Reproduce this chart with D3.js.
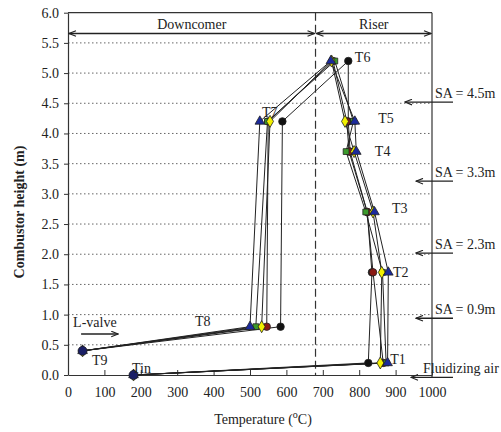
<!DOCTYPE html>
<html>
<head>
<meta charset="utf-8">
<script src="https://cdn.jsdelivr.net/npm/d3@7"></script>
<style>
  body { margin: 0; background: #fff; }
  svg text { font-family: "Liberation Serif", "DejaVu Serif", serif; fill: #222; }
</style>
</head>
<body>
<div id="chart"></div>
<script>
// measurement points along the loop: Tin, T1..T9
const heights = [0, 0.2, 1.7, 2.7, 3.7, 4.2, 5.2, 4.2, 0.8, 0.4];

// temperatures per run (°C)
const runBlack  = [180, 825, 835, 822, 775, 770, 770, 589, 584, 40];
const runRed    = [180, 866, 838, 822, 772, 766, 728, 550, 546, 40];
const runGreen  = [180, 874, 864, 818, 764, 784, 733, 548, 516, 40];
const runYellow = [180, 858, 862, 838, 786, 761, 724, 555, 532, 40];
const runBlue   = [180, 878, 880, 842, 792, 788, 722, 527, 500, 40];

// inlet / L-valve points drawn on top
const endTemps = [180, 40];
const endHeights = [0, 0.4];

const xTicks = [0, 100, 200, 300, 400, 500, 600, 700, 800, 900, 1000];
const yTicks = [0, 0.5, 1, 1.5, 2, 2.5, 3, 3.5, 4, 4.5, 5, 5.5, 6];
const gridLevels = [0.5, 1, 1.5, 2, 2.5, 3, 3.5, 4, 4.5, 5, 5.5];

const pointLabels = ["Tin", "T1", "T2", "T3", "T4", "T5", "T6", "T7", "T8", "T9"];
const labelX = [176, 885, 893, 890, 843, 852, 788, 533, 349, 66];
const labelY = [0.03, 0.18, 1.62, 2.68, 3.63, 4.17, 5.18, 4.27, 0.81, 0.17];

const saLabels = ["SA = 4.5m", "SA = 3.3m", "SA = 2.3m", "SA = 0.9m", "Fluidizing air"];
const saLevels = [4.52, 3.21, 2.02, 0.94, -0.04];

const boundaryTemp = 680;

const W = 501, H = 432;
const svg = d3.select("#chart").append("svg")
    .attr("width", W)
    .attr("height", H);

const x = d3.scaleLinear().domain([0, 1000]).range([68, 432]);
const y = d3.scaleLinear().domain([0, 6]).range([375, 12.7]);

// grid
svg.append("g")
    .selectAll("line")
    .data(gridLevels)
    .enter().append("line")
    .attr("x1", x(0)).attr("x2", x(1000))
    .attr("y1", d => y(d)).attr("y2", d => y(d))
    .attr("stroke", "#666")
    .attr("stroke-width", 1)
    .attr("stroke-dasharray", "1.5,2.5");

// frame
svg.append("line").attr("x1", x(0)).attr("x2", x(1000)).attr("y1", y(6)).attr("y2", y(6))
    .attr("stroke", "#333").attr("stroke-width", 1.2);
svg.append("line").attr("x1", x(1000)).attr("x2", x(1000)).attr("y1", y(6)).attr("y2", y(0) + 3)
    .attr("stroke", "#333").attr("stroke-width", 1.2);

// axes
const xAxis = svg.append("g")
    .attr("transform", `translate(0,${y(0)})`)
    .call(d3.axisBottom(x).tickValues(xTicks).tickFormat(d3.format("d")).tickSizeInner(-5).tickSizeOuter(0).tickPadding(12));
const yAxis = svg.append("g")
    .attr("transform", `translate(${x(0)},0)`)
    .call(d3.axisLeft(y).tickValues(yTicks).tickFormat(d3.format(".1f")).tickSizeInner(4).tickSizeOuter(0).tickPadding(5));
[xAxis, yAxis].forEach(a => {
    a.selectAll("path").attr("stroke", "#333").attr("stroke-width", 1.2);
    a.selectAll("line").attr("stroke", "#333");
    a.selectAll("text").style("font-family", '"Liberation Serif", serif').style("font-size", "14px").attr("fill", "#333");
});

// downcomer / riser boundary
svg.append("line")
    .attr("x1", x(boundaryTemp)).attr("x2", x(boundaryTemp))
    .attr("y1", y(6)).attr("y2", y(0))
    .attr("stroke", "#333").attr("stroke-width", 1.2)
    .attr("stroke-dasharray", "8,4");

// arrow heads
const defs = svg.append("defs");
defs.append("marker")
    .attr("id", "head")
    .attr("viewBox", "0 -5 10 10")
    .attr("refX", 10).attr("refY", 0)
    .attr("markerWidth", 9).attr("markerHeight", 7)
    .attr("orient", "auto-start-reverse")
    .attr("markerUnits", "userSpaceOnUse")
    .append("path")
    .attr("d", "M0,-4L10,0L0,4")
    .attr("fill", "none")
    .attr("stroke", "#222")
    .attr("stroke-width", 1.6);

// section arrows
const topY = 33.5;
svg.append("line")
    .attr("x1", x(0) + 1).attr("x2", x(boundaryTemp) - 1)
    .attr("y1", topY).attr("y2", topY)
    .attr("stroke", "#222").attr("stroke-width", 1.4)
    .attr("marker-start", "url(#head)").attr("marker-end", "url(#head)");
svg.append("line")
    .attr("x1", x(boundaryTemp) + 1).attr("x2", x(1000) - 1)
    .attr("y1", topY).attr("y2", topY)
    .attr("stroke", "#222").attr("stroke-width", 1.4)
    .attr("marker-start", "url(#head)").attr("marker-end", "url(#head)");
svg.append("text").attr("x", (x(0) + x(boundaryTemp)) / 2).attr("y", 29)
    .attr("text-anchor", "middle").style("font-size", "14px").text("Downcomer");
svg.append("text").attr("x", (x(boundaryTemp) + x(1000)) / 2).attr("y", 29)
    .attr("text-anchor", "middle").style("font-size", "14px").text("Riser");

// series
const runs = [
    { values: runBlack,  symbol: d3.symbolCircle,   size: 44, fill: "#111" },
    { values: runRed,    symbol: d3.symbolCircle,   size: 44, fill: "#8a1a14" },
    { values: runGreen,  symbol: d3.symbolSquare,   size: 34, fill: "#3c9a2c" },
    { values: runYellow, symbol: d3.symbolDiamond,  size: 42, fill: "#f2f000" },
    { values: runBlue,   symbol: d3.symbolTriangle, size: 40, fill: "#1b2a9c" }
];

const line = d3.line()
    .x(d => x(d[0]))
    .y(d => y(d[1]));

svg.append("g")
    .selectAll("path")
    .data(runs)
    .enter().append("path")
    .attr("d", r => line(r.values.map((t, i) => [t, heights[i]])))
    .attr("fill", "none")
    .attr("stroke", "#222")
    .attr("stroke-width", 1);

runs.forEach(r => {
    svg.append("g")
        .selectAll("path")
        .data(r.values.map((t, i) => [t, heights[i]]))
        .enter().append("path")
        .attr("transform", d => `translate(${x(d[0])},${y(d[1])})`)
        .attr("d", d3.symbol().type(r.symbol).size(r.size))
        .attr("fill", r.fill)
        .attr("stroke", "#222")
        .attr("stroke-width", 0.8);
});

svg.append("g")
    .selectAll("circle")
    .data(endTemps.map((t, i) => [t, endHeights[i]]))
    .enter().append("circle")
    .attr("cx", d => x(d[0]))
    .attr("cy", d => y(d[1]))
    .attr("r", 4.5)
    .attr("fill", "#1a1f66")
    .attr("stroke", "#222")
    .attr("stroke-width", 0.8);

// point labels
svg.append("g")
    .selectAll("text")
    .data(pointLabels)
    .enter().append("text")
    .attr("x", (d, i) => x(labelX[i]))
    .attr("y", (d, i) => y(labelY[i]))
    .style("font-size", "14px")
    .text(d => d);

// L-valve
svg.append("text").attr("x", x(14)).attr("y", y(0.8)).style("font-size", "14px").text("L-valve");
svg.append("line")
    .attr("x1", x(36)).attr("x2", x(138))
    .attr("y1", 334).attr("y2", 334)
    .attr("stroke", "#222").attr("stroke-width", 1.4)
    .attr("marker-end", "url(#head)");

// secondary air / fluidizing air annotations
const notes = svg.append("g");
saLabels.forEach((s, i) => {
    const yy = y(saLevels[i]);
    const isAir = i === saLabels.length - 1;
    notes.append("line")
        .attr("x1", 453).attr("x2", isAir ? 411 : (i === 0 ? 405 : 416))
        .attr("y1", yy).attr("y2", yy)
        .attr("stroke", "#222").attr("stroke-width", 1.3)
        .attr("marker-end", "url(#head)");
    notes.append("text")
        .attr("x", isAir ? 423 : 435)
        .attr("y", yy - 4)
        .style("font-size", "14px")
        .text(s);
});

// axis titles
svg.append("text")
    .attr("transform", "translate(24,212) rotate(-90)")
    .attr("text-anchor", "middle")
    .style("font-size", "14px")
    .style("font-weight", "bold")
    .text("Combustor height (m)");

const xt = svg.append("text")
    .attr("x", 263).attr("y", 424)
    .attr("text-anchor", "middle")
    .style("font-size", "14px");
xt.append("tspan").text("Temperature (");
xt.append("tspan").attr("dy", -6).style("font-size", "10px").text("o");
xt.append("tspan").attr("dy", 6).text("C)");
</script>
</body>
</html>
